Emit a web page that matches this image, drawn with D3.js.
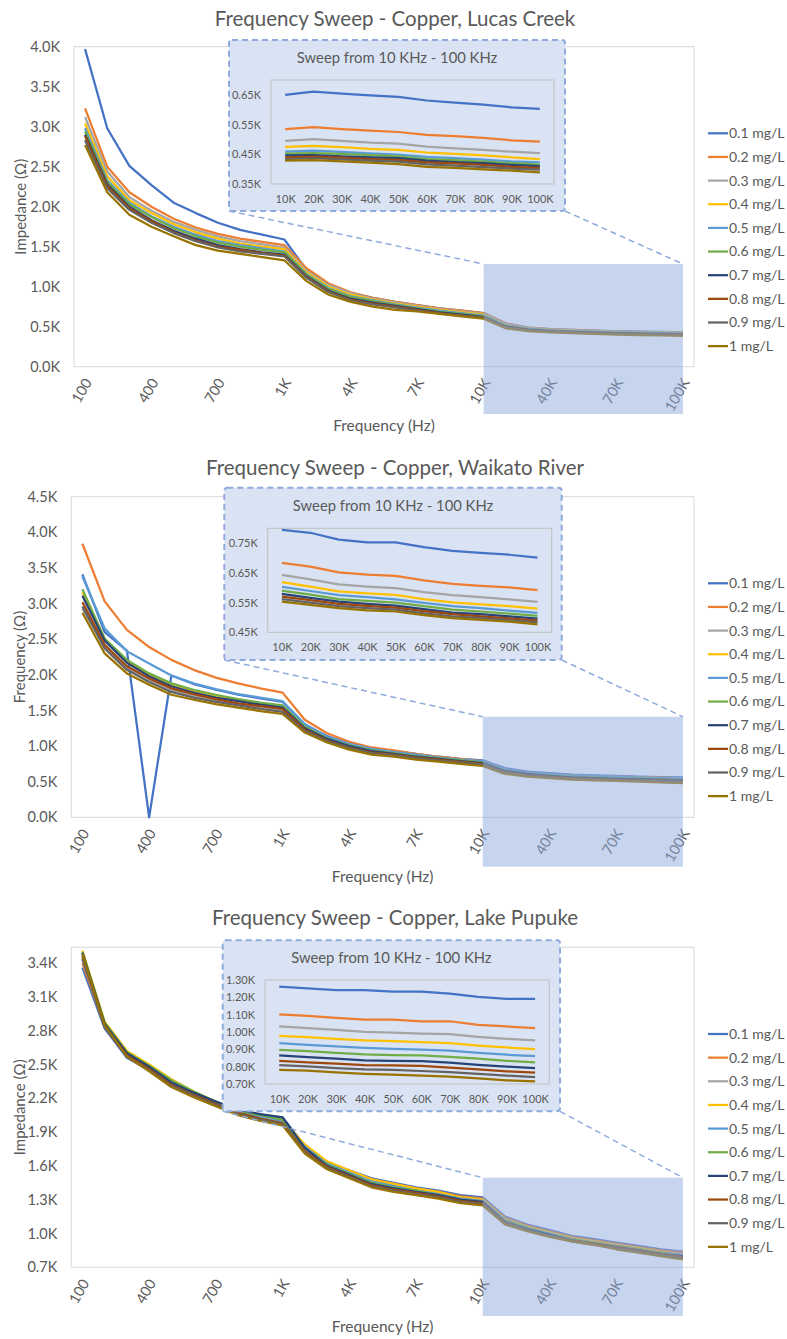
<!DOCTYPE html>
<html>
<head>
<meta charset="utf-8">
<script src="https://cdn.jsdelivr.net/npm/d3@7"></script>
<style>
  body { margin: 0; background: #fff; }
  svg { display: block; font-family: Lato, "Open Sans", sans-serif; }
  text { fill: #595959; }
</style>
</head>
<body>
<svg id="chart" width="787" height="1339"></svg>
<script>
// sweep points, in order of the x axis
const freqs = ['100', '200', '300', '400', '500', '600', '700', '800', '900',
    '1K', '2K', '3K', '4K', '5K', '6K', '7K', '8K', '9K',
    '10K', '20K', '30K', '40K', '50K', '60K', '70K', '80K', '90K', '100K'];
const freqLabels = ['100', '400', '700', '1K', '4K', '7K', '10K', '40K', '70K', '100K'];
const insetFreqs = ['10K', '20K', '30K', '40K', '50K', '60K', '70K', '80K', '90K', '100K'];

const seriesNames = ['0.1 mg/L', '0.2 mg/L', '0.3 mg/L', '0.4 mg/L', '0.5 mg/L',
    '0.6 mg/L', '0.7 mg/L', '0.8 mg/L', '0.9 mg/L', '1 mg/L'];
const seriesColors = ['#4472C4', '#ED7D31', '#A5A5A5', '#FFC000', '#5B9BD5',
    '#70AD47', '#264478', '#9E480E', '#636363', '#997300'];

// impedance in kOhm, one row per concentration
const lucasMain = [
    [3.97, 2.98, 2.51, 2.27, 2.05, 1.92, 1.80, 1.71, 1.65, 1.59, 1.21, 1.02, 0.92, 0.86, 0.81, 0.77, 0.73, 0.70, 0.67, 0.54, 0.49, 0.47, 0.46, 0.45, 0.445, 0.44, 0.435, 0.43],
    [3.23, 2.50, 2.18, 2.00, 1.85, 1.74, 1.66, 1.60, 1.56, 1.52, 1.23, 1.04, 0.93, 0.86, 0.81, 0.77, 0.73, 0.70, 0.67, 0.54, 0.49, 0.47, 0.46, 0.45, 0.44, 0.435, 0.43, 0.425],
    [3.12, 2.44, 2.12, 1.95, 1.81, 1.71, 1.63, 1.57, 1.53, 1.49, 1.20, 1.02, 0.92, 0.85, 0.80, 0.76, 0.72, 0.69, 0.66, 0.53, 0.485, 0.465, 0.455, 0.445, 0.44, 0.435, 0.43, 0.425],
    [3.04, 2.38, 2.08, 1.92, 1.78, 1.68, 1.60, 1.54, 1.50, 1.47, 1.18, 1.00, 0.90, 0.84, 0.79, 0.75, 0.71, 0.68, 0.65, 0.52, 0.48, 0.46, 0.45, 0.44, 0.435, 0.43, 0.425, 0.42],
    [2.98, 2.33, 2.05, 1.88, 1.75, 1.65, 1.57, 1.52, 1.48, 1.44, 1.16, 0.98, 0.88, 0.83, 0.78, 0.74, 0.70, 0.67, 0.64, 0.515, 0.475, 0.455, 0.445, 0.435, 0.43, 0.425, 0.42, 0.415],
    [2.94, 2.31, 2.03, 1.87, 1.73, 1.63, 1.55, 1.50, 1.46, 1.43, 1.15, 0.97, 0.87, 0.82, 0.77, 0.73, 0.69, 0.66, 0.63, 0.51, 0.47, 0.45, 0.44, 0.43, 0.425, 0.42, 0.415, 0.41],
    [2.90, 2.28, 2.00, 1.83, 1.70, 1.60, 1.52, 1.47, 1.43, 1.40, 1.13, 0.95, 0.85, 0.80, 0.76, 0.72, 0.68, 0.65, 0.62, 0.50, 0.465, 0.445, 0.435, 0.425, 0.42, 0.415, 0.41, 0.405],
    [2.88, 2.26, 1.98, 1.82, 1.68, 1.58, 1.50, 1.46, 1.42, 1.39, 1.12, 0.94, 0.84, 0.79, 0.75, 0.71, 0.67, 0.64, 0.615, 0.495, 0.46, 0.44, 0.43, 0.42, 0.415, 0.41, 0.405, 0.40],
    [2.83, 2.23, 1.96, 1.80, 1.67, 1.57, 1.49, 1.44, 1.41, 1.38, 1.11, 0.93, 0.83, 0.78, 0.74, 0.70, 0.665, 0.635, 0.61, 0.49, 0.455, 0.435, 0.425, 0.415, 0.41, 0.405, 0.40, 0.395],
    [2.77, 2.18, 1.90, 1.75, 1.63, 1.52, 1.45, 1.41, 1.37, 1.33, 1.07, 0.90, 0.81, 0.75, 0.71, 0.69, 0.66, 0.63, 0.60, 0.48, 0.445, 0.43, 0.42, 0.41, 0.40, 0.395, 0.39, 0.385]
];
const lucasInset = [
    [0.650, 0.661, 0.654, 0.648, 0.643, 0.631, 0.624, 0.617, 0.608, 0.603],
    [0.535, 0.541, 0.535, 0.530, 0.525, 0.515, 0.511, 0.505, 0.497, 0.493],
    [0.495, 0.501, 0.495, 0.489, 0.486, 0.476, 0.470, 0.465, 0.459, 0.454],
    [0.475, 0.478, 0.474, 0.468, 0.465, 0.456, 0.451, 0.446, 0.440, 0.434],
    [0.459, 0.462, 0.458, 0.453, 0.449, 0.441, 0.437, 0.432, 0.426, 0.423],
    [0.452, 0.454, 0.451, 0.447, 0.443, 0.434, 0.430, 0.425, 0.420, 0.415],
    [0.446, 0.447, 0.443, 0.440, 0.437, 0.429, 0.424, 0.420, 0.414, 0.410],
    [0.440, 0.442, 0.439, 0.434, 0.431, 0.423, 0.419, 0.414, 0.408, 0.404],
    [0.434, 0.437, 0.433, 0.429, 0.425, 0.416, 0.412, 0.407, 0.402, 0.398],
    [0.429, 0.430, 0.426, 0.422, 0.417, 0.408, 0.404, 0.399, 0.395, 0.389]
];
const lucasTicks = [0, 0.5, 1.0, 1.5, 2.0, 2.5, 3.0, 3.5, 4.0];
const lucasInsetTicks = [0.35, 0.45, 0.55, 0.65];

const waikatoMain = [
    [3.41, 2.60, 2.34, 0.00, 1.99, 1.87, 1.79, 1.72, 1.67, 1.62, 1.30, 1.14, 1.03, 0.96, 0.93, 0.89, 0.85, 0.82, 0.80, 0.69, 0.64, 0.62, 0.60, 0.59, 0.58, 0.57, 0.565, 0.56],
    [3.84, 3.03, 2.63, 2.39, 2.21, 2.07, 1.96, 1.88, 1.81, 1.75, 1.37, 1.18, 1.06, 0.98, 0.94, 0.89, 0.85, 0.82, 0.79, 0.68, 0.63, 0.61, 0.59, 0.58, 0.57, 0.565, 0.56, 0.55],
    [2.93, 2.39, 2.09, 1.93, 1.79, 1.70, 1.64, 1.59, 1.54, 1.50, 1.23, 1.09, 0.99, 0.92, 0.89, 0.85, 0.82, 0.79, 0.77, 0.66, 0.61, 0.59, 0.57, 0.56, 0.55, 0.54, 0.535, 0.53],
    [3.16, 2.50, 2.19, 2.01, 1.87, 1.78, 1.71, 1.65, 1.60, 1.56, 1.26, 1.11, 1.01, 0.94, 0.90, 0.86, 0.83, 0.80, 0.78, 0.67, 0.62, 0.60, 0.58, 0.57, 0.56, 0.55, 0.545, 0.54],
    [3.38, 2.65, 2.33, 2.16, 1.99, 1.88, 1.80, 1.73, 1.68, 1.63, 1.31, 1.13, 1.03, 0.96, 0.92, 0.88, 0.84, 0.81, 0.79, 0.68, 0.63, 0.61, 0.59, 0.58, 0.57, 0.56, 0.555, 0.55],
    [3.20, 2.51, 2.21, 2.02, 1.88, 1.79, 1.72, 1.66, 1.61, 1.57, 1.27, 1.11, 1.01, 0.94, 0.90, 0.86, 0.83, 0.80, 0.77, 0.66, 0.61, 0.59, 0.57, 0.56, 0.55, 0.545, 0.54, 0.53],
    [3.11, 2.48, 2.17, 1.98, 1.84, 1.75, 1.68, 1.63, 1.58, 1.54, 1.25, 1.10, 1.00, 0.93, 0.89, 0.85, 0.82, 0.79, 0.76, 0.65, 0.61, 0.58, 0.56, 0.55, 0.54, 0.535, 0.53, 0.52],
    [3.02, 2.42, 2.12, 1.95, 1.81, 1.73, 1.66, 1.60, 1.56, 1.52, 1.23, 1.08, 0.98, 0.91, 0.88, 0.84, 0.81, 0.78, 0.75, 0.64, 0.60, 0.57, 0.55, 0.54, 0.53, 0.525, 0.52, 0.51],
    [2.96, 2.37, 2.07, 1.90, 1.76, 1.68, 1.62, 1.57, 1.52, 1.48, 1.21, 1.07, 0.97, 0.90, 0.87, 0.83, 0.80, 0.77, 0.74, 0.63, 0.59, 0.56, 0.54, 0.53, 0.52, 0.515, 0.51, 0.50],
    [2.87, 2.30, 2.02, 1.86, 1.72, 1.65, 1.59, 1.54, 1.49, 1.45, 1.19, 1.05, 0.95, 0.88, 0.85, 0.81, 0.78, 0.75, 0.72, 0.61, 0.57, 0.55, 0.53, 0.52, 0.51, 0.50, 0.49, 0.48]
];
const waikatoInset = [
    [0.795, 0.785, 0.762, 0.753, 0.753, 0.737, 0.724, 0.717, 0.711, 0.701],
    [0.684, 0.671, 0.652, 0.644, 0.640, 0.625, 0.613, 0.606, 0.601, 0.592],
    [0.643, 0.628, 0.611, 0.604, 0.599, 0.585, 0.575, 0.568, 0.561, 0.552],
    [0.619, 0.604, 0.588, 0.581, 0.576, 0.562, 0.551, 0.544, 0.538, 0.530],
    [0.603, 0.589, 0.575, 0.568, 0.561, 0.549, 0.538, 0.531, 0.523, 0.515],
    [0.590, 0.577, 0.562, 0.556, 0.550, 0.538, 0.526, 0.520, 0.513, 0.505],
    [0.579, 0.566, 0.553, 0.546, 0.540, 0.528, 0.516, 0.511, 0.504, 0.496],
    [0.570, 0.558, 0.546, 0.539, 0.533, 0.521, 0.511, 0.504, 0.497, 0.489],
    [0.562, 0.550, 0.538, 0.531, 0.526, 0.514, 0.504, 0.498, 0.491, 0.483],
    [0.553, 0.542, 0.531, 0.524, 0.520, 0.508, 0.498, 0.492, 0.486, 0.477]
];
const waikatoTicks = [0, 0.5, 1.0, 1.5, 2.0, 2.5, 3.0, 3.5, 4.0, 4.5];
const waikatoInsetTicks = [0.45, 0.55, 0.65, 0.75];

const pupukeMain = [
    [3.36, 2.82, 2.56, 2.45, 2.31, 2.23, 2.15, 2.08, 2.05, 2.03, 1.78, 1.63, 1.56, 1.49, 1.45, 1.41, 1.38, 1.34, 1.32, 1.15, 1.08, 1.03, 0.98, 0.95, 0.92, 0.89, 0.86, 0.84],
    [3.40, 2.84, 2.58, 2.46, 2.32, 2.24, 2.15, 2.08, 2.04, 2.01, 1.77, 1.62, 1.55, 1.48, 1.44, 1.40, 1.37, 1.33, 1.31, 1.14, 1.07, 1.02, 0.97, 0.94, 0.91, 0.88, 0.85, 0.83],
    [3.43, 2.85, 2.59, 2.47, 2.33, 2.24, 2.16, 2.08, 2.04, 2.00, 1.77, 1.62, 1.54, 1.47, 1.43, 1.39, 1.36, 1.32, 1.30, 1.13, 1.06, 1.01, 0.96, 0.93, 0.90, 0.87, 0.84, 0.82],
    [3.51, 2.88, 2.62, 2.50, 2.37, 2.26, 2.17, 2.09, 2.05, 2.01, 1.79, 1.64, 1.56, 1.48, 1.44, 1.40, 1.37, 1.32, 1.30, 1.13, 1.06, 1.01, 0.96, 0.93, 0.90, 0.87, 0.84, 0.81],
    [3.47, 2.86, 2.60, 2.48, 2.35, 2.25, 2.16, 2.08, 2.04, 2.00, 1.77, 1.62, 1.54, 1.46, 1.42, 1.38, 1.35, 1.31, 1.29, 1.12, 1.05, 1.00, 0.95, 0.92, 0.89, 0.86, 0.83, 0.81],
    [3.50, 2.87, 2.61, 2.49, 2.36, 2.26, 2.17, 2.09, 2.05, 2.01, 1.76, 1.61, 1.53, 1.45, 1.41, 1.38, 1.34, 1.30, 1.28, 1.11, 1.05, 0.99, 0.95, 0.92, 0.89, 0.86, 0.83, 0.80],
    [3.49, 2.86, 2.60, 2.48, 2.34, 2.25, 2.17, 2.10, 2.06, 2.03, 1.76, 1.60, 1.52, 1.44, 1.40, 1.37, 1.34, 1.30, 1.28, 1.10, 1.04, 0.99, 0.94, 0.91, 0.88, 0.85, 0.82, 0.80],
    [3.46, 2.84, 2.58, 2.46, 2.32, 2.23, 2.15, 2.07, 2.02, 1.98, 1.73, 1.59, 1.51, 1.43, 1.39, 1.36, 1.33, 1.29, 1.27, 1.10, 1.03, 0.98, 0.94, 0.91, 0.88, 0.85, 0.82, 0.79],
    [3.44, 2.83, 2.57, 2.45, 2.31, 2.22, 2.14, 2.06, 2.01, 1.97, 1.72, 1.58, 1.50, 1.42, 1.38, 1.35, 1.32, 1.28, 1.26, 1.09, 1.03, 0.98, 0.93, 0.90, 0.87, 0.84, 0.81, 0.78],
    [3.48, 2.85, 2.57, 2.44, 2.30, 2.21, 2.13, 2.05, 2.00, 1.96, 1.71, 1.57, 1.49, 1.41, 1.37, 1.34, 1.31, 1.27, 1.25, 1.08, 1.02, 0.97, 0.93, 0.90, 0.86, 0.83, 0.80, 0.77]
];
const pupukeInset = [
    [1.262, 1.252, 1.242, 1.242, 1.233, 1.233, 1.221, 1.202, 1.191, 1.191],
    [1.101, 1.093, 1.081, 1.072, 1.072, 1.062, 1.062, 1.041, 1.032, 1.022],
    [1.032, 1.022, 1.012, 1.001, 0.997, 0.991, 0.988, 0.972, 0.961, 0.951],
    [0.978, 0.970, 0.961, 0.951, 0.947, 0.942, 0.936, 0.922, 0.911, 0.901],
    [0.936, 0.926, 0.917, 0.909, 0.903, 0.899, 0.892, 0.880, 0.869, 0.861],
    [0.897, 0.890, 0.880, 0.871, 0.867, 0.865, 0.857, 0.846, 0.834, 0.825],
    [0.865, 0.855, 0.846, 0.836, 0.834, 0.832, 0.823, 0.811, 0.800, 0.792],
    [0.834, 0.825, 0.817, 0.809, 0.807, 0.804, 0.794, 0.784, 0.773, 0.765],
    [0.809, 0.802, 0.792, 0.784, 0.781, 0.775, 0.769, 0.759, 0.748, 0.740],
    [0.782, 0.777, 0.767, 0.759, 0.754, 0.748, 0.742, 0.733, 0.721, 0.715]
];
const pupukeTicks = [0.7, 1.0, 1.3, 1.6, 1.9, 2.2, 2.5, 2.8, 3.1, 3.4];
const pupukeInsetTicks = [0.70, 0.80, 0.90, 1.00, 1.10, 1.20, 1.30];

const svg = d3.select('#chart');
const BORDER = '#d9d9d9';
const ACCENT = '#8faadc';

function drawPanel(p) {
    const g = svg.append('g');

    const x = d3.scalePoint().domain(freqs).range([p.left, p.right]).padding(0.5);
    const y = d3.scaleLinear().domain(p.yDomain).range([p.bottom, p.top]);

    g.append('text')
        .attr('x', 395).attr('y', p.titleY)
        .attr('text-anchor', 'middle')
        .style('font-size', '20.5px')
        .text(p.title);

    g.append('rect')
        .attr('x', p.left).attr('y', p.top)
        .attr('width', p.right - p.left).attr('height', p.bottom - p.top)
        .attr('fill', 'none').attr('stroke', BORDER);

    const yAxis = g.append('g')
        .attr('transform', 'translate(' + p.left + ',0)')
        .call(d3.axisLeft(y).tickValues(p.yTicks).tickSize(0).tickPadding(14)
            .tickFormat(d => d.toFixed(1) + 'K'));
    yAxis.select('.domain').remove();
    yAxis.selectAll('text').style('font-size', '14.5px').style('font-family', 'Lato').attr('fill', '#595959');

    g.append('g').selectAll('text')
        .data(freqLabels)
        .join('text')
        .attr('transform', d => 'translate(' + (x(d) + 3) + ',' + (p.bottom + 13) + ') rotate(-60)')
        .attr('text-anchor', 'end')
        .attr('dy', '0.35em')
        .style('font-size', '14.5px')
        .text(d => d);

    g.append('text')
        .attr('transform', 'translate(' + p.yTitleX + ',' + ((p.top + p.bottom) / 2) + ') rotate(-90)')
        .attr('text-anchor', 'middle').attr('dy', '0.35em')
        .style('font-size', '15px')
        .text(p.yTitle);

    g.append('text')
        .attr('x', (p.left + p.right) / 2).attr('y', p.xTitleY)
        .attr('text-anchor', 'middle')
        .style('font-size', '15.5px')
        .text('Frequency (Hz)');

    const line = d3.line().x((d, i) => x(freqs[i])).y(d => y(d));
    g.append('g').selectAll('path')
        .data(p.main)
        .join('path')
        .attr('d', line)
        .attr('fill', 'none')
        .attr('stroke', (d, i) => seriesColors[i])
        .attr('stroke-width', 2.25)
        .attr('stroke-linejoin', 'round');

    // zoom window on the 10K - 100K part
    const sx0 = x('10K'), sx1 = x('100K');
    const b = p.box;
    g.append('line')
        .attr('x1', b.x0).attr('y1', b.y1).attr('x2', sx0).attr('y2', p.shadeTop)
        .attr('stroke', ACCENT).attr('stroke-width', 1.5).attr('stroke-dasharray', '6,4');
    g.append('line')
        .attr('x1', b.x1).attr('y1', b.y1).attr('x2', sx1).attr('y2', p.shadeTop)
        .attr('stroke', ACCENT).attr('stroke-width', 1.5).attr('stroke-dasharray', '6,4');
    g.append('rect')
        .attr('x', sx0).attr('y', p.shadeTop)
        .attr('width', sx1 - sx0).attr('height', p.shadeBottom - p.shadeTop)
        .attr('fill', ACCENT).attr('fill-opacity', 0.5);

    // inset
    g.append('rect')
        .attr('x', b.x0).attr('y', b.y0)
        .attr('width', b.x1 - b.x0).attr('height', b.y1 - b.y0)
        .attr('rx', 3)
        .attr('fill', '#dae3f3')
        .attr('stroke', ACCENT).attr('stroke-width', 2).attr('stroke-dasharray', '6,4');
    g.append('text')
        .attr('x', (b.x0 + b.x1) / 2).attr('y', p.boxTitleY)
        .attr('text-anchor', 'middle')
        .style('font-size', '14.8px')
        .text('Sweep from 10 KHz - 100 KHz');

    const n = p.inner;
    const ix = d3.scalePoint().domain(insetFreqs).range([n.x0, n.x1]).padding(0.5);
    const iy = d3.scaleLinear().domain(p.insetDomain).range([n.y1, n.y0]);

    g.append('rect')
        .attr('x', n.x0).attr('y', n.y0)
        .attr('width', n.x1 - n.x0).attr('height', n.y1 - n.y0)
        .attr('fill', 'none').attr('stroke', '#bfbfbf');

    const iyAxis = g.append('g')
        .attr('transform', 'translate(' + n.x0 + ',0)')
        .call(d3.axisLeft(iy).tickValues(p.insetTicks).tickSize(0).tickPadding(10)
            .tickFormat(d => d.toFixed(2) + 'K'));
    const ixAxis = g.append('g')
        .attr('transform', 'translate(0,' + n.y1 + ')')
        .call(d3.axisBottom(ix).tickSize(0).tickPadding(11));
    [iyAxis, ixAxis].forEach(a => {
        a.select('.domain').remove();
        a.selectAll('text').style('font-size', '11px').style('font-family', 'Lato').attr('fill', '#595959');
    });

    const iline = d3.line().x((d, i) => ix(insetFreqs[i])).y(d => iy(d));
    g.append('g').selectAll('path')
        .data(p.inset)
        .join('path')
        .attr('d', iline)
        .attr('fill', 'none')
        .attr('stroke', (d, i) => seriesColors[i])
        .attr('stroke-width', 2.25)
        .attr('stroke-linejoin', 'round');

    // legend
    const leg = g.append('g').selectAll('g')
        .data(seriesNames)
        .join('g')
        .attr('transform', (d, i) => 'translate(708,' + (p.legendY + i * 23.65) + ')');
    leg.append('line')
        .attr('x1', 0).attr('x2', 20)
        .attr('stroke', (d, i) => seriesColors[i]).attr('stroke-width', 2.25);
    leg.append('text')
        .attr('x', 21).attr('dy', '0.35em')
        .style('font-size', '14px')
        .text(d => d);
}

drawPanel({
    title: 'Frequency Sweep - Copper, Lucas Creek', yTitle: 'Impedance (Ω)',
    main: lucasMain, inset: lucasInset,
    yDomain: [0, 4.0], yTicks: lucasTicks,
    insetDomain: [0.35, 0.70], insetTicks: lucasInsetTicks,
    titleY: 26, left: 74, right: 694, top: 46.7, bottom: 366.7,
    yTitleX: 21, xTitleY: 431,
    box: { x0: 229, x1: 565, y0: 40, y1: 211 }, boxTitleY: 63,
    inner: { x0: 271, x1: 554, y0: 80, y1: 184 },
    shadeTop: 264, shadeBottom: 414, legendY: 133.3
});

drawPanel({
    title: 'Frequency Sweep - Copper, Waikato River', yTitle: 'Frequency (Ω)',
    main: waikatoMain, inset: waikatoInset,
    yDomain: [0, 4.5], yTicks: waikatoTicks,
    insetDomain: [0.45, 0.80], insetTicks: waikatoInsetTicks,
    titleY: 475, left: 71.3, right: 694, top: 496.7, bottom: 817.3,
    yTitleX: 20, xTitleY: 882,
    box: { x0: 224.3, x1: 561.7, y0: 487.7, y1: 660 }, boxTitleY: 511,
    inner: { x0: 267.7, x1: 551.7, y0: 528.3, y1: 632.3 },
    shadeTop: 716.7, shadeBottom: 866.7, legendY: 583.3
});

drawPanel({
    title: 'Frequency Sweep - Copper, Lake Pupuke', yTitle: 'Impedance (Ω)',
    main: pupukeMain, inset: pupukeInset,
    yDomain: [0.7, 3.54], yTicks: pupukeTicks,
    insetDomain: [0.70, 1.30], insetTicks: pupukeInsetTicks,
    titleY: 925, left: 71.3, right: 694, top: 947.3, bottom: 1267.3,
    yTitleX: 20, xTitleY: 1332,
    box: { x0: 222.7, x1: 560, y0: 940.3, y1: 1111.3 }, boxTitleY: 963,
    inner: { x0: 265, x1: 549.3, y0: 980, y1: 1084 },
    shadeTop: 1177.7, shadeBottom: 1316, legendY: 1034
});
</script>
</body>
</html>
